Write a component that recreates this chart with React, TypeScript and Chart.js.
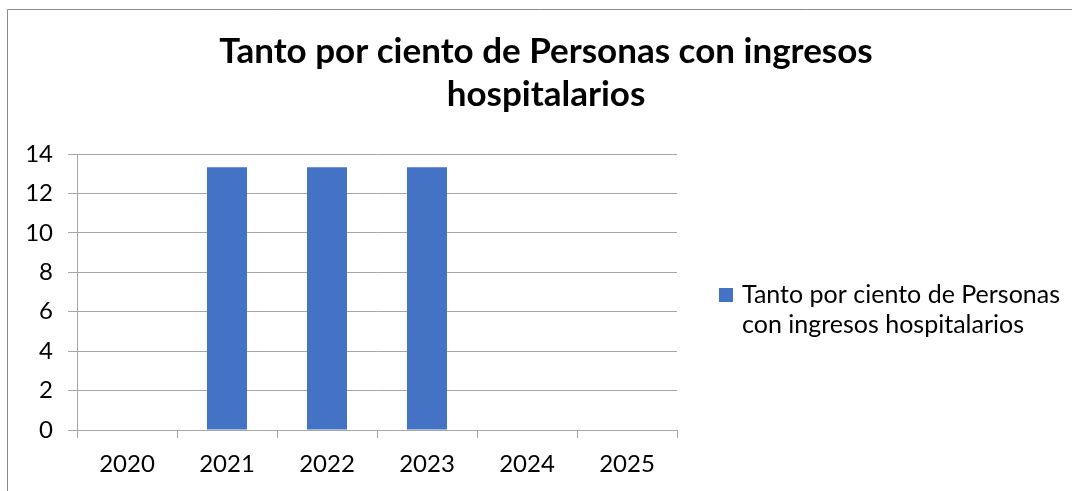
import React, { useEffect, useRef } from "react";
import { Chart, registerables } from "chart.js";

Chart.register(...registerables);

const categories = ["2020", "2021", "2022", "2023", "2024", "2025"];
const seriesValues = [null, 13.33, 13.33, 13.33, null, null];
const seriesName = "Tanto por ciento de Personas con ingresos hospitalarios";
const titleLines = ["Tanto por ciento de Personas con ingresos", "hospitalarios"];
const legendLines = ["Tanto por ciento de Personas", "con ingresos hospitalarios"];
const yTicks = [0, 2, 4, 6, 8, 10, 12, 14];

const FONT = "Lato, 'Open Sans', sans-serif";
const BAR = "#4472C4";
const GRID = "#a6a6a6";

const decorPlugin = {
  id: "decor",
  beforeDraw(chart: any) {
    const ctx = chart.ctx;
    ctx.save();
    ctx.fillStyle = "#ffffff";
    ctx.fillRect(0, 0, chart.width, chart.height);
    ctx.strokeStyle = "#8c8c8c";
    ctx.lineWidth = 1;
    ctx.beginPath();
    ctx.moveTo(7.5, chart.height + 5);
    ctx.lineTo(7.5, 9.5);
    ctx.lineTo(chart.width + 5, 9.5);
    ctx.stroke();
    ctx.restore();
  },
  afterDraw(chart: any) {
    const ctx = chart.ctx;
    ctx.save();
    ctx.fillStyle = "#000000";
    ctx.textAlign = "center";
    ctx.textBaseline = "alphabetic";
    ctx.font = `bold 35px ${FONT}`;
    ctx.fillText(titleLines[0], 546, 63);
    ctx.fillText(titleLines[1], 546, 106);

    ctx.fillStyle = BAR;
    ctx.fillRect(719, 288, 14, 14);
    ctx.fillStyle = "#000000";
    ctx.textAlign = "left";
    ctx.font = `25px ${FONT}`;
    ctx.fillText(legendLines[0], 742, 303);
    ctx.fillText(legendLines[1], 742, 333);
    ctx.restore();
  },
};

export default function App() {
  const ref = useRef<HTMLCanvasElement | null>(null);
  useEffect(() => {
    if (!ref.current) return;
    const chart = new Chart(ref.current, {
      type: "bar",
      data: {
        labels: categories,
        datasets: [
          {
            label: seriesName,
            data: seriesValues as any,
            backgroundColor: BAR,
            borderWidth: 0,
            categoryPercentage: 1,
            barPercentage: 0.4,
          },
        ],
      },
      options: {
        responsive: false,
        animation: false,
        layout: { padding: { left: 0, top: 154, right: 395, bottom: 11 } },
        plugins: {
          legend: { display: false },
          title: { display: false },
          tooltip: { enabled: false },
        },
        scales: {
          x: {
            grid: {
              display: true,
              drawOnChartArea: false,
              drawTicks: true,
              tickLength: 8,
              color: GRID,
              offset: true,
            },
            border: { color: GRID, width: 1 },
            ticks: {
              color: "#000000",
              font: { family: FONT, size: 24 },
              padding: 12,
              maxRotation: 0,
            },
            afterFit(scale: any) {
              scale.height = 50;
            },
          },
          y: {
            min: 0,
            max: 14,
            afterBuildTicks(scale: any) {
              scale.ticks = yTicks.map((v) => ({ value: v }));
            },
            grid: { color: GRID, tickLength: 9, drawTicks: true },
            border: { color: GRID, width: 1 },
            ticks: {
              color: "#000000",
              font: { family: FONT, size: 24 },
              padding: 15,
            },
            afterFit(scale: any) {
              scale.width = 77;
            },
          },
        },
      },
      plugins: [decorPlugin],
    });
    return () => chart.destroy();
  }, []);
  return (
    <canvas
      ref={ref}
      width={1072}
      height={491}
      style={{ position: "absolute", left: 0, top: 0, width: 1072, height: 491 }}
    />
  );
}
